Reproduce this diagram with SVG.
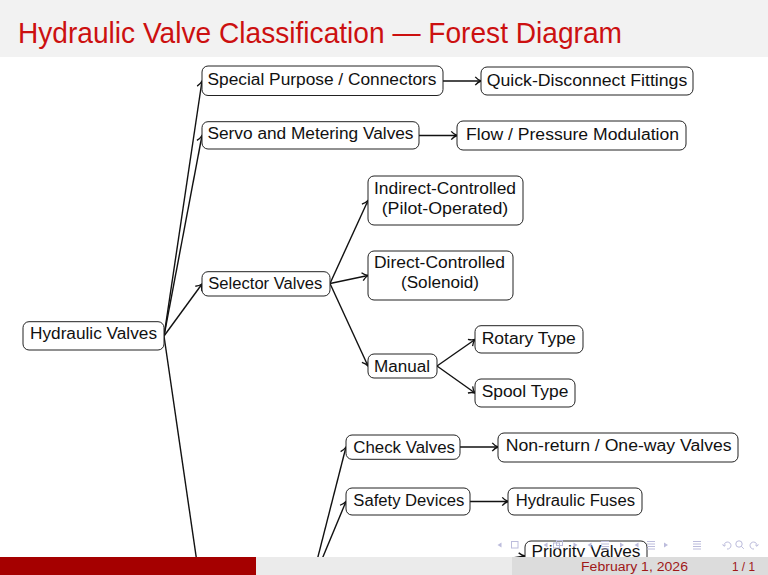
<svg xmlns="http://www.w3.org/2000/svg" width="768" height="575" viewBox="0 0 768 575">
<style>
.bg{fill:#ffffff}
.box{fill:#ffffff;stroke:#222;stroke-width:1}
.t{font-family:"Liberation Sans","Noto Sans",sans-serif;font-size:16px;fill:#111}
.edge{stroke:#111;stroke-width:1.4;fill:none;marker-end:url(#arr)}
.nav{fill:none;stroke:#bcbcdc;stroke-width:1}
.navf{fill:#bcbcdc}
</style>
<defs>
<marker id="arr" markerUnits="userSpaceOnUse" markerWidth="12" markerHeight="12" viewBox="-6 -5 8 10" refX="0" refY="0" orient="auto" overflow="visible">
<path d="M-4.8,-3.4 C-3.2,-1.6 -1.2,-0.4 0,0 C-1.2,0.4 -3.2,1.6 -4.8,3.4" fill="none" stroke="#111" stroke-width="1.1"/>
</marker>
<clipPath id="aboveFooter"><rect x="0" y="0" width="768" height="557"/></clipPath>
</defs>
<rect class="bg" x="0" y="0" width="768" height="575"/>
<rect x="0" y="0" width="768" height="57" fill="#f2f2f2"/>
<text x="18" y="42.5" font-family="Liberation Sans, Noto Sans, sans-serif" font-size="30" fill="#cc1010" textLength="604" lengthAdjust="spacingAndGlyphs">Hydraulic Valve Classification — Forest Diagram</text>

<g id="connectors">
<line class="edge" x1="164" y1="336" x2="202" y2="81"/>
<line class="edge" x1="164" y1="336" x2="202" y2="135.5"/>
<line class="edge" x1="164" y1="336" x2="202" y2="284"/>
<line x1="164" y1="336" x2="201" y2="590" stroke="#111" stroke-width="1.4"/>
<line class="edge" x1="443" y1="81" x2="481" y2="81" stroke-width="1.8"/>
<line class="edge" x1="419" y1="135.5" x2="457" y2="135.5"/>
<line class="edge" x1="330" y1="283.5" x2="368" y2="200.5"/>
<line class="edge" x1="330" y1="283.5" x2="368" y2="275.5"/>
<line class="edge" x1="330" y1="283.5" x2="368" y2="366"/>
<line class="edge" x1="437" y1="366" x2="475" y2="339.5"/>
<line class="edge" x1="437" y1="366" x2="475" y2="393"/>
<line class="edge" x1="310" y1="588" x2="346" y2="447"/>
<line class="edge" x1="310" y1="588" x2="346" y2="501.5"/>
<line class="edge" x1="460" y1="447" x2="498" y2="447"/>
<line class="edge" x1="470" y1="501.5" x2="508" y2="501.5" stroke-width="1.8"/>
<line class="edge" x1="487" y1="562" x2="525" y2="556"/>
</g>

<g id="n-hydraulic-valves"><rect class="box" x="23" y="321.7" width="141" height="28.3" rx="6"/><text class="t" x="30" y="339.3" textLength="127" lengthAdjust="spacingAndGlyphs">Hydraulic Valves</text></g>
<g id="n-special"><rect class="box" x="202" y="66" width="241" height="29.5" rx="6"/><text class="t" x="207.5" y="85" textLength="229" lengthAdjust="spacingAndGlyphs">Special Purpose / Connectors</text></g>
<g id="n-quick"><rect class="box" x="481" y="67" width="212" height="28" rx="6"/><text class="t" x="486.7" y="85.5" textLength="200.6" lengthAdjust="spacingAndGlyphs">Quick-Disconnect Fittings</text></g>
<g id="n-servo"><rect class="box" x="202" y="121.7" width="217" height="27.3" rx="6"/><text class="t" x="207.5" y="139.3" textLength="206" lengthAdjust="spacingAndGlyphs">Servo and Metering Valves</text></g>
<g id="n-flow"><rect class="box" x="457" y="121" width="229" height="29" rx="6"/><text class="t" x="466" y="140" textLength="213" lengthAdjust="spacingAndGlyphs">Flow / Pressure Modulation</text></g>
<g id="n-selector"><rect class="box" x="202" y="271.7" width="128" height="24.3" rx="6"/><text class="t" x="208.3" y="289.3" textLength="114" lengthAdjust="spacingAndGlyphs">Selector Valves</text></g>
<g id="n-indirect"><rect class="box" x="368" y="176" width="155" height="49" rx="6"/><text class="t" x="374" y="194" textLength="142" lengthAdjust="spacingAndGlyphs">Indirect-Controlled</text><text class="t" x="381.7" y="213.5" textLength="126.6" lengthAdjust="spacingAndGlyphs">(Pilot-Operated)</text></g>
<g id="n-direct"><rect class="box" x="368" y="251" width="145" height="49" rx="6"/><text class="t" x="374" y="268.3" textLength="131" lengthAdjust="spacingAndGlyphs">Direct-Controlled</text><text class="t" x="401" y="288.3" textLength="78" lengthAdjust="spacingAndGlyphs">(Solenoid)</text></g>
<g id="n-manual"><rect class="box" x="368" y="354" width="69" height="24" rx="6"/><text class="t" x="374" y="371.6" textLength="56" lengthAdjust="spacingAndGlyphs">Manual</text></g>
<g id="n-rotary"><rect class="box" x="475" y="325.7" width="108" height="27.3" rx="6"/><text class="t" x="481.7" y="343.8" textLength="94" lengthAdjust="spacingAndGlyphs">Rotary Type</text></g>
<g id="n-spool"><rect class="box" x="475" y="379" width="100" height="28" rx="6"/><text class="t" x="481.7" y="397" textLength="86.6" lengthAdjust="spacingAndGlyphs">Spool Type</text></g>
<g id="n-check"><rect class="box" x="346" y="435" width="114" height="24.3" rx="6"/><text class="t" x="353.3" y="452.5" textLength="101.7" lengthAdjust="spacingAndGlyphs">Check Valves</text></g>
<g id="n-nonreturn"><rect class="box" x="498" y="433" width="240" height="29" rx="6"/><text class="t" x="505.7" y="451" textLength="226" lengthAdjust="spacingAndGlyphs">Non-return / One-way Valves</text></g>
<g id="n-safety"><rect class="box" x="346" y="488" width="124" height="27" rx="6"/><text class="t" x="353.3" y="506" textLength="111" lengthAdjust="spacingAndGlyphs">Safety Devices</text></g>
<g id="n-fuses"><rect class="box" x="508" y="488" width="134" height="27" rx="6"/><text class="t" x="515.7" y="506" textLength="119.3" lengthAdjust="spacingAndGlyphs">Hydraulic Fuses</text></g>
<g id="n-priority" clip-path="url(#aboveFooter)"><rect class="box" x="525" y="541" width="122" height="30" rx="6"/><text class="t" x="531.5" y="557" textLength="109" lengthAdjust="spacingAndGlyphs">Priority Valves</text></g>

<g id="nav-symbols">
<polygon class="navf" points="497.5,545 501.5,542.5 501.5,547.5"/>
<rect class="nav" x="511.5" y="541.5" width="6.5" height="6.5"/>
<polygon class="navf" points="543.5,545 547.5,542.5 547.5,547.5"/>
<rect class="nav" x="553.5" y="543" width="6" height="5"/>
<rect class="nav" x="556.5" y="540.5" width="6" height="5"/>
<polygon class="navf" points="577.5,545 573.5,542.5 573.5,547.5"/>
<polygon class="navf" points="587.5,545 591.5,542.5 591.5,547.5"/>
<path class="nav" d="M601,541.5h8M601,544h8M601,546.5h8M601,549h8"/>
<polygon class="navf" points="624,545 620,542.5 620,547.5"/>
<polygon class="navf" points="634.5,545 638.5,542.5 638.5,547.5"/>
<path class="nav" d="M647,541.5h8M647,544h8M647,546.5h8M647,549h8"/>
<polygon class="navf" points="668,545 664,542.5 664,547.5"/>
<path class="nav" d="M693,541.5h8M693,544h8M693,546.5h8M693,549h8"/>
<path class="nav" d="M724,546 a3.5,3.5 0 1 1 3,3 M722.5,544.5 l1.5,1.8 l1.8,-1.5"/>
<circle class="nav" cx="739" cy="544" r="3.2"/>
<path class="nav" d="M741.3,546.3 l2.5,2.5"/>
<path class="nav" d="M757,546 a3.5,3.5 0 1 0 -3,3 M758.5,544.5 l-1.5,1.8 l-1.8,-1.5"/>
</g>

<g id="footer">
<rect x="0" y="557" width="256" height="18" fill="#a50000"/>
<rect x="256" y="557" width="256" height="18" fill="#ebebeb"/>
<rect x="512" y="557" width="256" height="18" fill="#dcdcdc"/>
<text x="581" y="570.5" font-family="Liberation Sans, Noto Sans, sans-serif" font-size="12" fill="#a01818" textLength="107" lengthAdjust="spacingAndGlyphs">February 1, 2026</text>
<text x="732" y="570.5" font-family="Liberation Sans, Noto Sans, sans-serif" font-size="12" fill="#a01818" textLength="23" lengthAdjust="spacingAndGlyphs">1 / 1</text>
</g>
</svg>
